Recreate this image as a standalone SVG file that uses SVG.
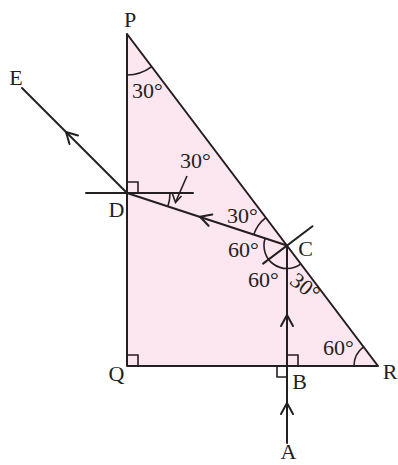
<svg xmlns="http://www.w3.org/2000/svg" width="398" height="465" viewBox="0 0 398 465">
<style>
.ln{fill:none;stroke:#231f20;stroke-width:2;stroke-linecap:round;stroke-linejoin:round}
.th{fill:none;stroke:#231f20;stroke-width:1.6}
.t{font-family:"Liberation Serif","Times New Roman",serif;font-size:22px;fill:#231f20}
.m{text-anchor:middle}
</style>
<rect width="398" height="465" fill="#ffffff"/>
<g id="prism">
<polygon points="127,34 127,366 378,366" fill="#fce6ef" stroke="none"/>
<polyline class="ln" points="127,34 127,366 378,366 127,34"/>
</g>
<g id="connectors">
<line class="ln" x1="287" y1="443" x2="287" y2="245.5"/>
<line class="ln" x1="287" y1="245.5" x2="127" y2="193"/>
<line class="ln" x1="127" y1="193" x2="22" y2="88"/>
<polyline class="ln" points="281,326 287,315 293,326"/>
<polyline class="ln" points="281,414 287,403 293,414"/>
<polyline class="ln" points="208.6,225.8 200,216.7 212.3,214.4"/>
<polyline class="ln" points="69.5,144 66,132 78,135.5"/>
</g>
<g id="normals">
<line class="ln" x1="86" y1="193" x2="193" y2="193"/>
<line class="ln" x1="263.1" y1="263.6" x2="312.5" y2="226.2"/>
</g>
<g id="right-angles">
<polyline class="th" points="127,182 138,182 138,193"/>
<polyline class="th" points="127,355 138,355 138,366"/>
<polyline class="th" points="287,355 298,355 298,366"/>
<polyline class="th" points="277,366 277,377 287,377"/>
</g>
<g id="arcs">
<path class="th" d="M127,75 A41,41 0 0 0 151.7,66.7"/>
<path class="th" d="M170,193 A43,43 0 0 1 167.9,206.3"/>
<path class="th" d="M253.75,234.6 A35,35 0 0 1 265.9,217.6"/>
<path class="th" d="M265.15,238.3 A23,23 0 0 0 300.9,263.85"/>
<path class="th" d="M354,366 A24,24 0 0 1 363.5,346.8"/>
<line class="th" x1="187" y1="176" x2="176" y2="201"/>
<polyline class="th" points="172.5,194 175.5,202.5 181.5,196"/>
</g>
<g id="labels">
<text class="t m" x="130" y="27">P</text>
<text class="t m" x="16" y="85">E</text>
<text class="t m" x="116.5" y="217">D</text>
<text class="t m" x="305.5" y="256">C</text>
<text class="t m" x="116.5" y="381">Q</text>
<text class="t m" x="299.5" y="389">B</text>
<text class="t m" x="390" y="379">R</text>
<text class="t m" x="288.5" y="459">A</text>
</g>
<g id="angles">
<text class="t" x="132" y="98">30°</text>
<text class="t" x="180" y="168">30°</text>
<text class="t" x="227" y="223">30°</text>
<text class="t" x="228" y="257">60°</text>
<text class="t" x="248" y="287">60°</text>
<text class="t m" x="305" y="294" transform="rotate(38 305 287)">30°</text>
<text class="t" x="323" y="355">60°</text>
</g>
</svg>
